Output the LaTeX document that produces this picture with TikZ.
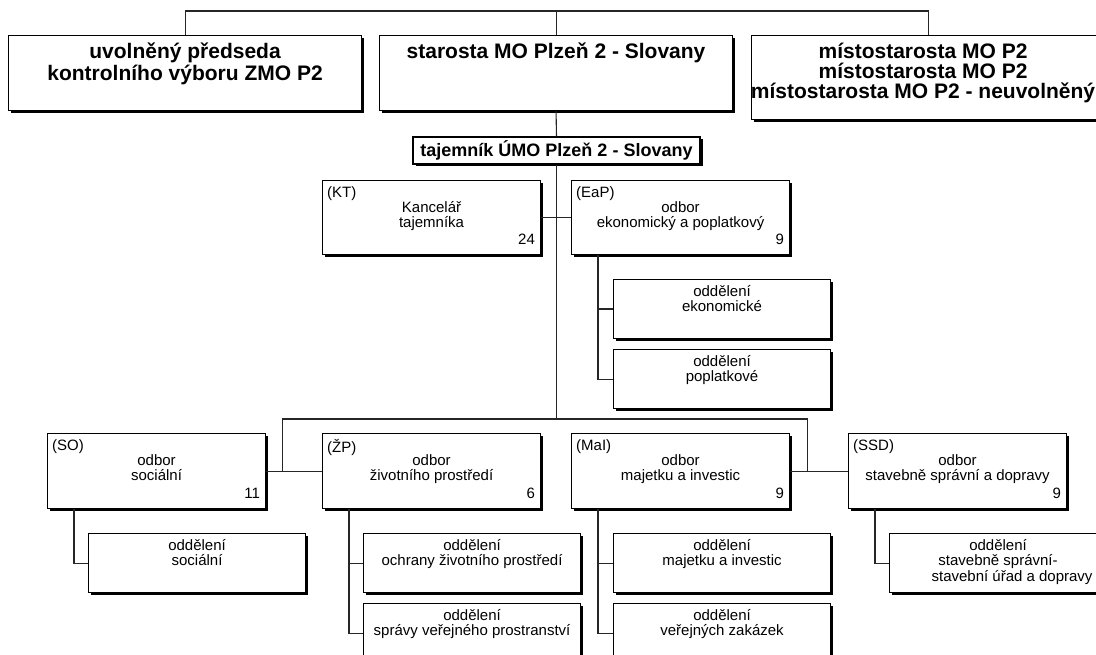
\documentclass[tikz,border=0pt]{standalone}
\usepackage{fontspec}
\setmainfont{Liberation Sans}
\usetikzlibrary{positioning}
\usetikzlibrary{calc}
\usetikzlibrary{shadows}

\newcommand{\orgbig}{\fontsize{21}{22}\selectfont\bfseries}
\newcommand{\orgmid}{\fontsize{18}{20}\selectfont\bfseries}
\newcommand{\orgsmall}{\fontsize{15}{15.5}\selectfont}

\begin{document}
\begin{tikzpicture}[x=1pt, y=-1pt,
  box/.style={draw=black, line width=1.1pt, fill=white, rectangle, inner sep=0pt, anchor=north west,
    general shadow={fill=black, shadow xshift=2.5pt, shadow yshift=-2.5pt}},
  topbox/.style={box, minimum width=353pt, minimum height=75pt},
  deptbox/.style={box, minimum width=218pt, minimum height=74pt},
  subbox/.style={box, minimum width=217pt, minimum height=59pt},
  headtext/.style={label={[anchor=north, align=center, font=\orgbig, inner sep=0pt, yshift=-8pt]north:{#1}}},
  abbr/.style={label={[anchor=north west, font=\orgsmall, inner sep=0pt, xshift=5pt, yshift=-6pt]north west:{#1}}},
  title/.style={label={[anchor=north, align=center, font=\orgsmall, inner sep=0pt, yshift=-21pt]north:{#1}}},
  subtitle/.style={label={[anchor=north, align=center, font=\orgsmall, inner sep=0pt, yshift=-6pt]north:{#1}}},
  staff/.style={label={[anchor=south east, font=\orgsmall, inner sep=0pt, xshift=-6pt, yshift=10pt]south east:{#1}}},
  link/.style={draw=black!85, line width=1.1pt}]
\useasboundingbox (0,0) rectangle (1096,655);
\clip (0,0) rectangle (1096,655);

% vedeni
\node[topbox, headtext={uvolněný předseda\\kontrolního výboru ZMO P2}] (pred) at (8,35) {};
\node[topbox, headtext={starosta MO Plzeň 2 - Slovany}] (star) at (379,35) {};
\node[topbox, minimum height=84pt,
  label={[anchor=north, align=center, font=\orgbig, inner sep=0pt, yshift=-8pt, xshift=-5pt]north:{místostarosta MO P2\\[-2pt]místostarosta MO P2\\[-2pt]místostarosta MO P2 - neuvolněný}}] (mist) at (751,35) {};
\node[box, anchor=center, minimum width=287pt, minimum height=27pt, font=\orgmid] (taj) at (556.5,150.5) {tajemník ÚMO Plzeň 2 - Slovany};

% odbory nahore
\node[deptbox, abbr=(KT), title={Kancelář\\tajemníka}, staff=24] (kt) at (322,180) {};
\node[deptbox, abbr=(EaP), title={odbor\\ekonomický a poplatkový}, staff=9] (eap) at (571,180) {};
\node[subbox, subtitle={oddělení\\ekonomické}] (ek) at (613,279) {};
\node[subbox, below=10pt of ek, subtitle={oddělení\\poplatkové}] (popl) {};

% odbory dole
\node[deptbox, minimum height=75pt, abbr=(SO), title={odbor\\sociální}, staff=11] (so) at (47,433) {};
\node[deptbox, minimum height=75pt, abbr=(ŽP), title={odbor\\životního prostředí}, staff=6] (zp) at (322,433) {};
\node[deptbox, minimum height=75pt, abbr=(MaI), title={odbor\\majetku a investic}, staff=9] (mi) at (571,433) {};
\node[deptbox, minimum height=75pt, abbr=(SSD), title={odbor\\stavebně správní a dopravy}, staff=9] (ssd) at (848,433) {};

\node[subbox, subtitle={oddělení\\sociální}] (soc) at (88,533) {};
\node[subbox, subtitle={oddělení\\ochrany životního prostředí}] (ochr) at (363,533) {};
\node[subbox, below=10pt of ochr, subtitle={oddělení\\správy veřejného prostranství}] (sprv) {};
\node[subbox, subtitle={oddělení\\majetku a investic}] (maj) at (613,533) {};
\node[subbox, below=10pt of maj, subtitle={oddělení\\veřejných zakázek}] (vz) {};
\node[subbox, subtitle={oddělení\\stavebně správní-\\\hspace*{28pt}stavební úřad a dopravy}] (stsp) at (889,533) {};

% spojnice
\coordinate (topbus) at (star.north |- 0,11);
\coordinate (midbus) at (taj.south |- 0,419);
\draw[link] (pred.north) |- (topbus) -| (mist.north);
\draw[link] (topbus) -- (star.north);
\draw[link] (star.south) -- (taj.north);
\draw[link] (taj.south) -- (midbus);
\draw[link] (kt.east) -- (eap.west);
\draw[link] ([xshift=27pt]eap.south west) |- (ek.west);
\draw[link] ([xshift=27pt]eap.south west) |- (popl.west);
\draw[link] (so.east) -- (zp.west);
\draw[link] (mi.east) -- (ssd.west);
\coordinate (lj) at ($(so.east)!.3!(zp.west)$);
\coordinate (rj) at ($(mi.east)!.3!(ssd.west)$);
\draw[link] (lj) |- (midbus) -| (rj);
\draw[link] ([xshift=27pt]so.south west) |- (soc.west);
\draw[link] ([xshift=27pt]zp.south west) |- (ochr.west);
\draw[link] ([xshift=27pt]zp.south west) |- (sprv.west);
\draw[link] ([xshift=27pt]mi.south west) |- (maj.west);
\draw[link] ([xshift=27pt]mi.south west) |- (vz.west);
\draw[link] ([xshift=27pt]ssd.south west) |- (stsp.west);
\end{tikzpicture}
\end{document}
